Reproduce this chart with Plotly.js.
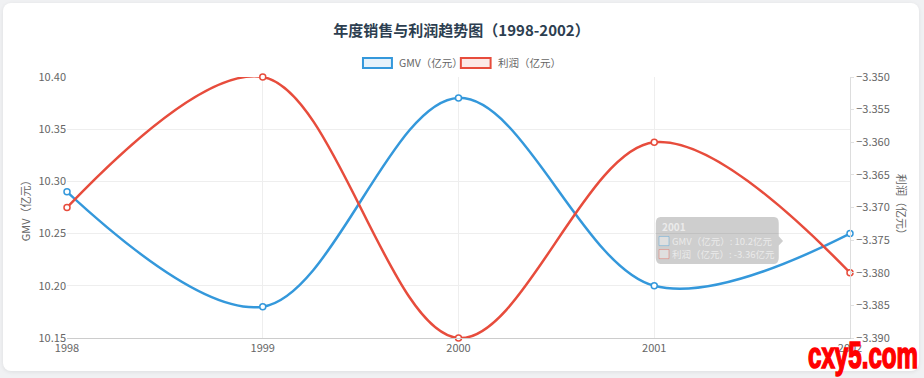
<!DOCTYPE html>
<html>
<head>
<meta charset="utf-8">
<script src="https://cdn.plot.ly/plotly-3.0.1.min.js"></script>
<style>
html,body{margin:0;padding:0;background:#f0f1f3;width:924px;height:378px;overflow:hidden;}
#card{position:absolute;left:3px;top:3px;width:916px;height:368px;background:#fff;border-radius:8px;box-shadow:0 1px 4px rgba(0,0,0,0.08);}
#chart{position:absolute;left:0;top:0;width:924px;height:378px;}
#wm{position:absolute;left:0;top:0;width:924px;height:378px;pointer-events:none;}
</style>
</head>
<body>
<div id="card"></div>
<div id="chart"></div>
<svg id="wm" width="924" height="378" xmlns="http://www.w3.org/2000/svg">
  <text x="808" y="368" textLength="110" lengthAdjust="spacingAndGlyphs"
        font-family="Liberation Sans, Arial, sans-serif" font-weight="bold" font-size="36"
        fill="#ff0000" stroke="#ff0000" stroke-width="1.6">cxy5.com</text>
</svg>
<script>
const years = [1998, 1999, 2000, 2001, 2002];
const gmv = [10.29, 10.18, 10.38, 10.20, 10.25];
const profit = [-3.370, -3.350, -3.390, -3.360, -3.380];
const gmvName = 'GMV（亿元）';
const profitName = '利润（亿元）';
const blue = '#3498db';
const red = '#e74c3c';
const font = '"Microsoft YaHei","Noto Sans CJK SC","Noto Sans",sans-serif';

const traces = [
  {x: years, y: gmv, name: gmvName, type: 'scatter', mode: 'lines+markers', cliponaxis: false,
   line: {color: blue, width: 2.5, shape: 'spline', smoothing: 1},
   marker: {size: 6, color: '#fff', line: {color: blue, width: 1.5}}, yaxis: 'y', showlegend: false},
  {x: years, y: profit, name: profitName, type: 'scatter', mode: 'lines+markers', cliponaxis: false,
   line: {color: red, width: 2.5, shape: 'spline', smoothing: 1},
   marker: {size: 6, color: '#fff', line: {color: red, width: 1.5}}, yaxis: 'y2', showlegend: false}
];

const tipFont = {size: 9.5, color: 'rgba(255,255,255,0.6)'};

const layout = {
  width: 924, height: 378,
  margin: {l: 67, r: 74, t: 77, b: 40},
  paper_bgcolor: 'rgba(0,0,0,0)', plot_bgcolor: 'rgba(0,0,0,0)',
  font: {family: font, color: '#666', size: 11},
  title: {text: '<b>年度销售与利润趋势图（1998-2002）</b>', x: 0.4995, xanchor: 'center', y: 0.918, yanchor: 'middle',
          font: {size: 15, color: '#2c3e50', family: font}},
  xaxis: {range: [1998, 2002], tickvals: years, ticktext: years.map(String), showgrid: true, gridcolor: '#eeeeee',
          showline: true, linecolor: '#cccccc', ticks: '', zeroline: false, tickfont: {size: 11, color: '#666'}},
  yaxis: {range: [10.15, 10.40], dtick: 0.05, tickformat: '.2f', showgrid: true, gridcolor: '#eeeeee', zeroline: false,
          showline: false, ticks: '', tickfont: {size: 11, color: '#666'}},
  yaxis2: {range: [-3.390, -3.350], dtick: 0.005, tickformat: '.3f', overlaying: 'y', side: 'right', showgrid: false,
           zeroline: false, showline: true, linecolor: '#dddddd', ticks: 'outside', ticklen: 3, tickcolor: '#e0e0e0',
           tickfont: {size: 11, color: '#666'}},
  shapes: [
    {type: 'rect', xref: 'paper', yref: 'paper', x0: 0.378, x1: 0.415, y0: 1.0345, y1: 1.0728,
     line: {color: blue, width: 2}, fillcolor: 'rgba(52,152,219,0.12)'},
    {type: 'rect', xref: 'paper', yref: 'paper', x0: 0.503, x1: 0.541, y0: 1.0345, y1: 1.0728,
     line: {color: red, width: 2}, fillcolor: 'rgba(231,76,60,0.12)'},
    {type: 'path', xref: 'paper', yref: 'paper',
     path: 'M 0.758,0.4636 L 0.903,0.4636 Q 0.909,0.4636 0.909,0.44 L 0.909,0.39 L 0.9145,0.372 L 0.909,0.354 L 0.909,0.307 Q 0.909,0.2835 0.903,0.2835 L 0.758,0.2835 Q 0.752,0.2835 0.752,0.307 L 0.752,0.44 Q 0.752,0.4636 0.758,0.4636 Z',
     line: {width: 0}, fillcolor: 'rgba(60,60,60,0.25)'},
    {type: 'rect', xref: 'paper', yref: 'paper', x0: 0.7561, x1: 0.7688, y0: 0.354, y1: 0.389,
     line: {color: 'rgba(52,152,219,0.35)', width: 1}, fillcolor: 'rgba(255,255,255,0.35)'},
    {type: 'rect', xref: 'paper', yref: 'paper', x0: 0.7561, x1: 0.7688, y0: 0.304, y1: 0.339,
     line: {color: 'rgba(231,76,60,0.35)', width: 1}, fillcolor: 'rgba(255,255,255,0.35)'}
  ],
  annotations: [
    {text: gmvName, xref: 'paper', yref: 'paper', x: 0.4215, y: 1.054, xanchor: 'left', yanchor: 'middle', showarrow: false,
     font: {size: 10.5, color: '#666'}},
    {text: profitName, xref: 'paper', yref: 'paper', x: 0.5476, y: 1.054, xanchor: 'left', yanchor: 'middle', showarrow: false,
     font: {size: 10.5, color: '#666'}},
    {text: gmvName, xref: 'paper', yref: 'paper', x: -0.054, y: 0.5, xanchor: 'center', yanchor: 'middle', textangle: -90,
     showarrow: false, font: {size: 11, color: '#666'}},
    {text: profitName, xref: 'paper', yref: 'paper', x: 1.067, y: 0.5, xanchor: 'center', yanchor: 'middle', textangle: 90,
     showarrow: false, font: {size: 11, color: '#666'}},
    {text: '<b>2001</b>', xref: 'paper', yref: 'paper', x: 0.7573, y: 0.429, xanchor: 'left', yanchor: 'middle', showarrow: false,
     font: {size: 10, color: 'rgba(255,255,255,0.6)'}},
    {text: 'GMV（亿元）: 10.2亿元', xref: 'paper', yref: 'paper', x: 0.7705, y: 0.3716, xanchor: 'left', yanchor: 'middle', showarrow: false,
     font: tipFont},
    {text: '利润（亿元）: -3.36亿元', xref: 'paper', yref: 'paper', x: 0.7705, y: 0.322, xanchor: 'left', yanchor: 'middle', showarrow: false,
     font: tipFont}
  ]
};

Plotly.newPlot('chart', traces, layout, {displayModeBar: false, staticPlot: true});
</script>
</body>
</html>
